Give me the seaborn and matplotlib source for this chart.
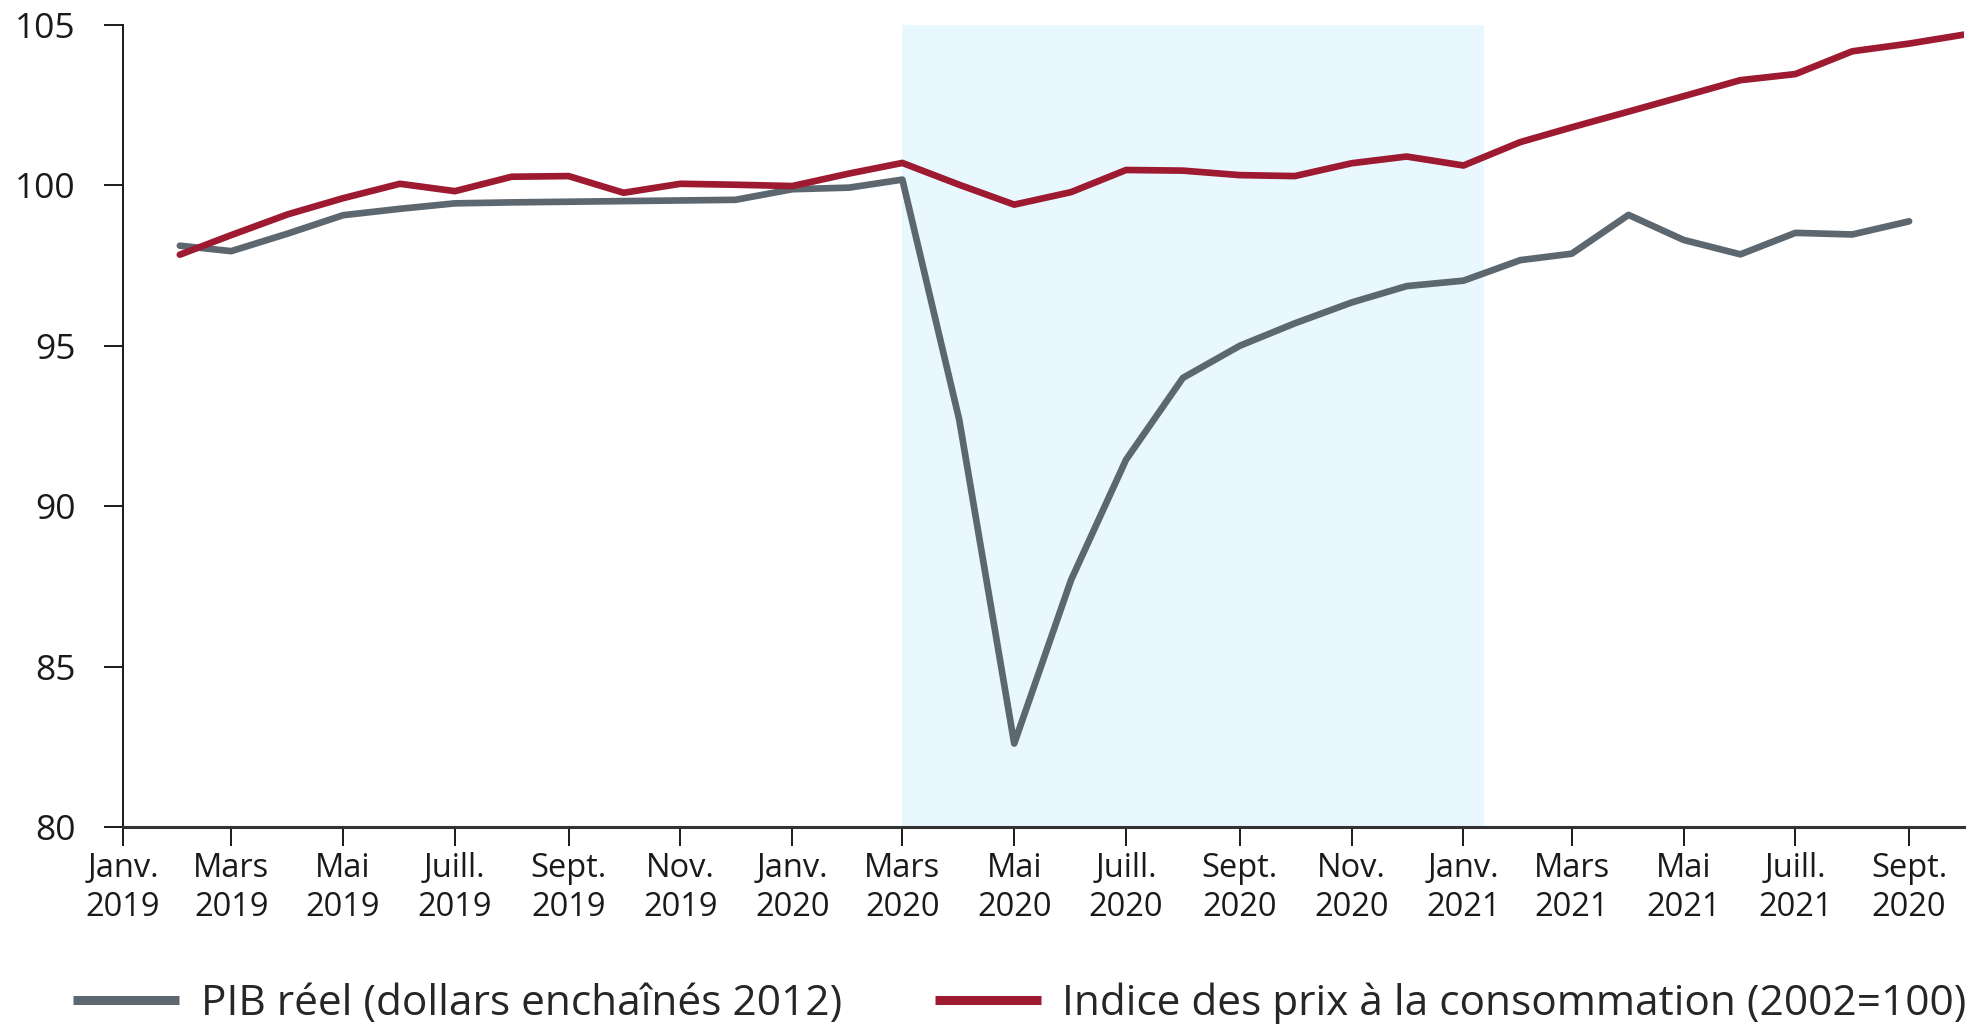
import pandas as pd
import matplotlib.pyplot as plt
import seaborn as sns

# Series (monthly, index 2019-02 .. )
pib_label = "PIB réel (dollars enchaînés 2012)"
ipc_label = "Indice des prix à la consommation (2002=100)"

pib_start = "2019-02-01"
pib_values = [98.12, 97.95, 98.5, 99.07, 99.27, 99.44, 99.47, 99.49, 99.51, 99.53, 99.55,
              99.88, 99.93, 100.18, 92.7, 82.6, 87.7, 91.45, 94.0, 95.0, 95.7, 96.35, 96.86,
              97.03, 97.67, 97.87, 99.08, 98.3, 97.85, 98.52, 98.47, 98.88]

ipc_start = "2019-02-01"
ipc_values = [97.84, 98.45, 99.1, 99.6, 100.05, 99.82, 100.27, 100.29, 99.77, 100.05, 100.02,
              99.98, 100.37, 100.7, 100.02, 99.4, 99.79, 100.48, 100.46, 100.32, 100.29, 100.69, 100.9,
              100.62, 101.35, 101.81, 102.3, 102.78, 103.28, 103.47, 104.18, 104.42, 104.7]

tick_dates = ["2019-01-01", "2019-03-01", "2019-05-01", "2019-07-01", "2019-09-01", "2019-11-01",
              "2020-01-01", "2020-03-01", "2020-05-01", "2020-07-01", "2020-09-01", "2020-11-01",
              "2021-01-01", "2021-03-01", "2021-05-01", "2021-07-01", "2021-09-01"]
tick_labels = ["Janv.\n2019", "Mars\n2019", "Mai\n2019", "Juill.\n2019", "Sept.\n2019", "Nov.\n2019",
               "Janv.\n2020", "Mars\n2020", "Mai\n2020", "Juill.\n2020", "Sept.\n2020", "Nov.\n2020",
               "Janv.\n2021", "Mars\n2021", "Mai\n2021", "Juill.\n2021", "Sept.\n2020"]

shade_start = "2020-03-01"
shade_end = "2021-01-12"

pib = pd.DataFrame({"date": pd.date_range(pib_start, periods=len(pib_values), freq="MS"),
                    "valeur": pib_values, "serie": pib_label})
ipc = pd.DataFrame({"date": pd.date_range(ipc_start, periods=len(ipc_values), freq="MS"),
                    "valeur": ipc_values, "serie": ipc_label})
data = pd.concat([pib, ipc], ignore_index=True)

sns.set_style("ticks")
plt.rcParams["font.family"] = ["Open Sans", "DejaVu Sans"]

fig = plt.figure(figsize=(19.74, 10.24), dpi=100)
ax = fig.add_axes([0.0623, 0.1924, 0.9327, 0.7832])

ax.axvspan(pd.Timestamp(shade_start), pd.Timestamp(shade_end), color="#e9f8fe", lw=0, zorder=0)

sns.lineplot(data=data, x="date", y="valeur", hue="serie", ax=ax,
             palette={pib_label: "#5c6770", ipc_label: "#9e1a31"},
             linewidth=4.8, zorder=3)

ax.set_xlim(pd.Timestamp("2019-01-01"), pd.Timestamp("2021-10-01"))
ax.set_ylim(80, 105)
ax.set_yticks([80, 85, 90, 95, 100, 105])
ax.set_xticks(pd.to_datetime(tick_dates))
ax.set_xticklabels(tick_labels, linespacing=1.25)
ax.set_xlabel("")
ax.set_ylabel("")

sns.despine(ax=ax)
ax.spines["left"].set_linewidth(1.4)
ax.spines["bottom"].set_linewidth(2.2)
ax.spines["left"].set_color("#1a1a1a")
ax.spines["bottom"].set_color("#333333")
ax.tick_params(axis="y", length=14, width=1.4, pad=20, labelsize=25.5, colors="#1a1a1a")
ax.tick_params(axis="x", length=14, width=1.4, pad=4, labelsize=23.5, colors="#1a1a1a")

handles, labels = ax.get_legend_handles_labels()
ax.legend_.remove()
leg = fig.legend(handles, labels, loc="center", bbox_to_anchor=(0.5167, 0.0195), ncol=2,
                 frameon=False, fontsize=30.5, handlelength=2.5, columnspacing=2.2,
                 handletextpad=0.5)
for line in leg.get_lines():
    line.set_linewidth(6.5)
    line.set_solid_capstyle("butt")

fig.savefig("out.png", dpi=100)
